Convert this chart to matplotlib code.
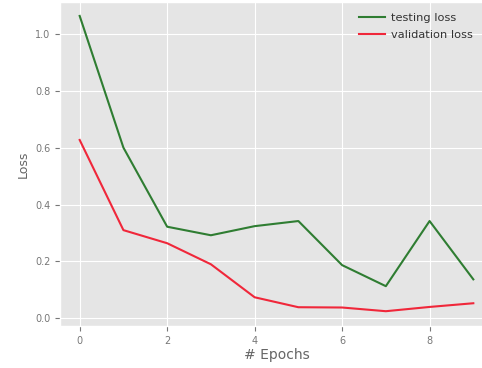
import matplotlib
matplotlib.use('Agg')
import matplotlib.pyplot as plt

plt.style.use('ggplot')

# loss per epoch
epochs = [0, 1, 2, 3, 4, 5, 6, 7, 8, 9]
testing_loss = [1.063, 0.60, 0.322, 0.292, 0.324, 0.342, 0.187, 0.113, 0.342, 0.137]
validation_loss = [0.627, 0.31, 0.264, 0.19, 0.074, 0.039, 0.038, 0.025, 0.04, 0.053]


def loss_plot():
    fig = plt.figure(figsize=(4.82, 3.68), dpi=100)
    fig.patch.set_facecolor('white')
    # axes run off the right edge, as in the cropped screenshot
    ax = fig.add_axes([60 / 482, 42 / 368, 433 / 482, 324 / 368])
    ax.plot(epochs, testing_loss, color='#2f7d32', lw=1.5, label='testing loss')
    ax.plot(epochs, validation_loss, color='#f0273a', lw=1.5, label='validation loss')
    ax.set_xlim(-0.45, 9.45)
    ax.set_ylim(-0.027, 1.112)
    ax.set_xticks([0, 2, 4, 6, 8])
    ax.set_yticks([0.0, 0.2, 0.4, 0.6, 0.8, 1.0])
    ax.tick_params(labelsize=7, colors='#777777')
    ax.set_xlabel('# Epochs', fontsize=10, color='#666666', labelpad=2)
    ax.set_ylabel('Loss', fontsize=9, color='#666666', labelpad=4)
    leg = fig.legend(loc='upper left', bbox_to_anchor=(359 / 482, 1 - 13 / 368),
                     fontsize=8.2, frameon=False, handlelength=2.3,
                     handletextpad=0.55, labelspacing=0.65,
                     borderpad=0, borderaxespad=0)
    for t in leg.get_texts():
        t.set_color('#333333')
    fig.savefig('out.png', dpi=100)


if __name__ == "__main__":
    loss_plot()
